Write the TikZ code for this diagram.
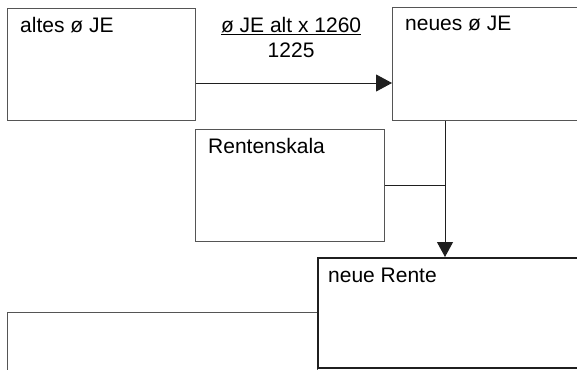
\documentclass[tikz,border=0pt]{standalone}
\usepackage{fontspec}
\setmainfont{Liberation Sans}
\usetikzlibrary{arrows.meta, positioning, calc}
\definecolor{frame}{HTML}{555555}
\definecolor{dark}{HTML}{1F1F1F}
\tikzset{
  box/.style={draw=frame, line width=1.2pt, rectangle, anchor=north west, inner sep=0pt},
  tag/.style={anchor=north west, inner sep=0pt, font=\fontsize{21}{25}\selectfont},
  link/.style={draw=dark, line width=1pt}
}

\begin{document}
\begin{tikzpicture}[x=1pt, y=-1pt]
  \useasboundingbox (0,0) rectangle (577,369);
  \clip (0,0) rectangle (577,369);
  % boxes, placed in pixel coordinates from the top left
  \foreach \n/\x/\y/\w/\h/\t in {altes/7/8/188/112/altes ø JE,
                                  neues/392/7/260/113/neues ø JE,
                                  skala/195/129/189/112/Rentenskala}
    \node[box, minimum width=\w pt, minimum height=\h pt,
          label={[tag, xshift=13pt, yshift=-9pt]north west:\t}] (\n) at (\x,\y) {};
  \node[box, minimum width=310pt, minimum height=90pt] (rest) at (7,312) {};
  \node[box, draw=dark, line width=2.4pt, minimum width=300pt, minimum height=110pt,
        label={[tag, xshift=11pt, yshift=-11pt]north west:neue Rente}] (rente) at (317,257) {};

  % connectors
  \coordinate (ay) at (0,83);
  \coordinate (vx) at (445,0);
  \draw[link, -{Triangle[length=16pt, width=17pt]}] (altes.east |- ay)
    -- node[midway, above=25pt, xshift=-3pt, inner sep=0pt, align=center, font=\fontsize{21}{25}\selectfont] (formel)
       {\underline{ø JE alt x 1260}\\1225} (neues.west |- ay);
  \draw[link, -{Triangle[length=15pt, width=16pt]}] (neues.south -| vx) -- (rente.north -| vx);
  \draw[link] (skala.east) -- (skala.east -| vx);
\end{tikzpicture}
\end{document}
